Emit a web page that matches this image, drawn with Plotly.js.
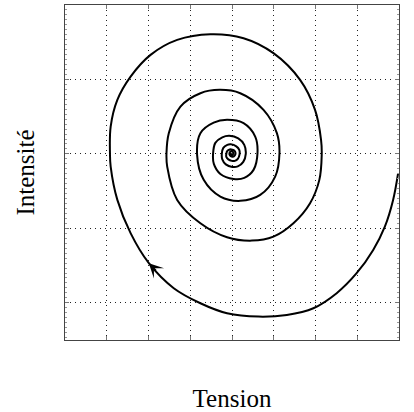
<!DOCTYPE html>
<html>
<head>
<meta charset="utf-8">
<script src="https://cdn.plot.ly/plotly-3.0.1.min.js"></script>
<style>
  html, body { margin: 0; padding: 0; background: #fff; }
  #chart { width: 414px; height: 412px; }
</style>
</head>
<body>
<div id="chart"></div>
<script>
// Phase-plane spiral (Tension on x, Intensité on y)
const tension = [
  3.979, 3.859, 3.661, 3.382, 2.985, 2.507, 1.949, 1.313, 0.635,
  -0.119, -0.757, -1.395, -1.992, -2.429, -2.746, -2.906, -2.923,
  -2.906, -2.746, -2.429, -1.951, -1.313, -0.518,
  0.277, 0.993, 1.631, 1.989, 2.133, 2.149,
  2.092, 1.870, 1.471, 0.993, 0.478,
  -0.119, -0.757, -1.313, -1.552, -1.569,
  -1.514, -1.235, -0.757, -0.296,
  0.198, 0.755, 1.075, 1.137,
  1.034, 0.676, 0.198,
  -0.279, -0.678, -0.836,
  -0.757, -0.439, -0.119,
  0.277, 0.556, 0.611,
  0.516, 0.294, 0.038,
  -0.279, -0.435, -0.454,
  -0.399, -0.232, -0.064,
  0.150, 0.294, 0.330,
  0.270, 0.139, 0.007,
  -0.148, -0.232, -0.244,
  -0.208, -0.112, -0.029,
  0.103, 0.174, 0.181,
  0.139, 0.067, -0.005,
  -0.088, -0.136, -0.136,
  -0.112, -0.053, -0.017,
  0.055, 0.084, 0.067, 0.019, -0.029, -0.060, -0.053, -0.017,
  0.019, 0.031, 0.007, -0.017, -0.005
];
const intensite = [
  -0.259, -0.618, -0.977, -1.290, -1.603, -1.871, -2.073, -2.163, -2.186,
  -2.140, -2.006, -1.804, -1.468, -1.065, -0.618, -0.171, 0.009,
  0.367, 0.725, 1.038, 1.330, 1.531, 1.608,
  1.554, 1.353, 0.994, 0.591, 0.188, -0.013,
  -0.349, -0.662, -0.931, -1.111, -1.165,
  -1.119, -0.931, -0.618, -0.171, 0.009,
  0.278, 0.635, 0.815, 0.860,
  0.815, 0.591, 0.278, 0.009,
  -0.305, -0.551, -0.631,
  -0.574, -0.349, -0.013,
  0.278, 0.420, 0.457,
  0.412, 0.232, 0.013,
  -0.215, -0.322, -0.336,
  -0.269, -0.134, 0.000,
  0.148, 0.222, 0.242,
  0.208, 0.121, 0.000,
  -0.107, -0.168, -0.175,
  -0.141, -0.074, 0.000,
  0.081, 0.121, 0.128,
  0.101, 0.054, -0.007,
  -0.067, -0.094, -0.094,
  -0.074, -0.040, 0.000,
  0.040, 0.060, 0.060,
  0.047, 0.013, -0.020, -0.038, -0.031, -0.007, 0.020, 0.034,
  0.027, 0.007, -0.013, -0.007, 0.007
];
const xTicks = [-3, -2, -1, 0, 1, 2, 3];
const yTicks = [-2, -1, 0, 1];
const xLabel = 'Tension';
const yLabel = 'Intensité';
const arrowIndex = 12; // point on the outer turn that carries the direction arrow

const font = 'Liberation Serif, DejaVu Serif, serif';

const trace = {
  x: tension,
  y: intensite,
  type: 'scatter',
  mode: 'lines',
  line: { color: '#000', width: 2, shape: 'spline', smoothing: 1 },
  hoverinfo: 'skip'
};

// arrow tail a little behind the arrow point along the curve
const k = arrowIndex;
const tailX = tension[k] + 0.35 * (tension[k - 1] - tension[k]);
const tailY = intensite[k] + 0.35 * (intensite[k - 1] - intensite[k]);

const axisCommon = {
  showticklabels: false,
  ticks: 'inside',
  ticklen: 4,
  tickcolor: '#777',
  tickwidth: 1,
  showgrid: true,
  gridcolor: '#222',
  gridwidth: 1,
  griddash: '1px,4px',
  zeroline: false,
  showline: true,
  linecolor: '#444',
  linewidth: 1,
  mirror: 'ticks',
  fixedrange: true
};

const layout = {
  width: 414,
  height: 412,
  margin: { l: 65, r: 15, t: 5, b: 72 },
  paper_bgcolor: '#fff',
  plot_bgcolor: '#fff',
  showlegend: false,
  font: { family: font, color: '#000', size: 20 },
  xaxis: Object.assign({}, axisCommon, {
    range: [-4, 4],
    tickmode: 'array',
    tickvals: xTicks,
    title: { text: xLabel, font: { family: font, size: 25, color: '#000' }, standoff: 50 }
  }),
  yaxis: Object.assign({}, axisCommon, {
    range: [-2.5, 2],
    tickmode: 'array',
    tickvals: yTicks,
    minor: { dtick: 1 / 15, ticklen: 2, tickcolor: '#999', showgrid: false, ticks: 'inside' },
    title: { text: yLabel, font: { family: font, size: 25, color: '#000' }, standoff: 22 }
  }),
  annotations: [{
    x: tension[k], y: intensite[k],
    ax: tailX, ay: tailY,
    xref: 'x', yref: 'y', axref: 'x', ayref: 'y',
    text: '',
    showarrow: true,
    arrowhead: 3,
    arrowsize: 1.6,
    arrowwidth: 1.5,
    arrowcolor: '#000',
    standoff: 0
  }]
};

Plotly.newPlot('chart', [trace], layout, { displayModeBar: false, staticPlot: true });
</script>
</body>
</html>
